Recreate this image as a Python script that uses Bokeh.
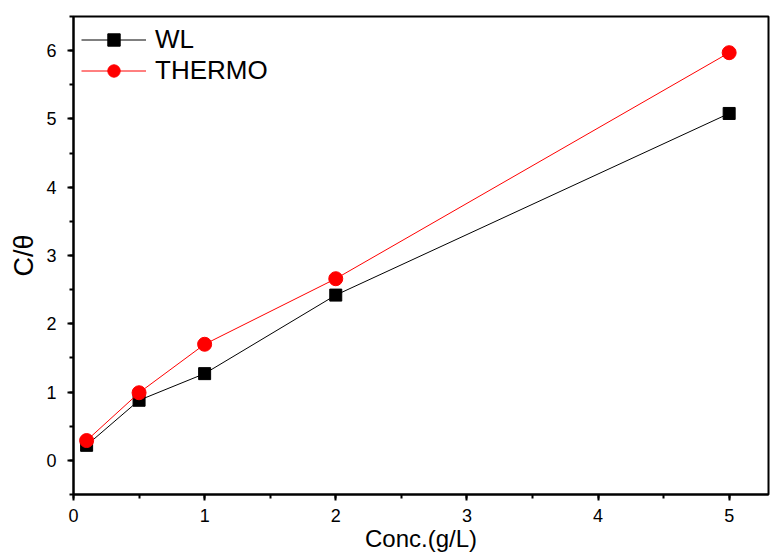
from bokeh.plotting import figure
from bokeh.models import SingleIntervalTicker, Range1d, Legend, LegendItem
from bokeh.embed import file_html
from bokeh.resources import INLINE

conc = [0.1, 0.5, 1, 2, 5]
wl = [0.22, 0.88, 1.27, 2.42, 5.08]
thermo = [0.29, 0.99, 1.70, 2.66, 5.97]

x_title = "Conc.(g/L)"
y_title = "C/θ"

FONT = "Liberation Sans"

p = figure(output_backend="svg", toolbar_location=None,
           frame_width=695, frame_height=478,
           min_border_left=73, min_border_top=16, min_border_right=2, min_border_bottom=60,
           x_range=Range1d(0, 5.3), y_range=Range1d(-0.5, 6.5))
p.xgrid.visible = False
p.ygrid.visible = False
p.outline_line_color = "black"
p.outline_line_width = 2

r1l = p.line(conc, wl, line_color="black", line_width=1)
r1m = p.scatter(conc, wl, marker="square", size=12, color="black")
r2l = p.line(conc, thermo, line_color="red", line_width=1)
r2m = p.scatter(conc, thermo, marker="circle", size=14, color="red")

for ax in (p.xaxis[0], p.yaxis[0]):
    ax.ticker = SingleIntervalTicker(interval=1, num_minor_ticks=2)
    ax.axis_line_width = 2
    ax.major_tick_line_width = 2
    ax.minor_tick_line_width = 2
    ax.major_tick_out = 6
    ax.major_tick_in = 0
    ax.minor_tick_out = 4
    ax.minor_tick_in = 0
    ax.major_label_text_font = FONT
    ax.major_label_text_font_size = "18px"
    ax.major_label_text_color = "black"
    ax.axis_label_text_font = FONT
    ax.axis_label_text_font_style = "normal"
    ax.axis_label_text_color = "black"

p.xaxis.axis_label = x_title
p.yaxis.axis_label = y_title
p.xaxis.axis_label_text_font_size = "24px"
p.yaxis.axis_label_text_font_size = "27px"
p.xaxis.major_label_standoff = 8
p.xaxis.axis_label_standoff = 0
p.yaxis.major_label_standoff = 11
p.yaxis.axis_label_standoff = 4

legend = Legend(items=[LegendItem(label="WL", renderers=[r1l, r1m]),
                       LegendItem(label="THERMO", renderers=[r2l, r2m])],
                location="top_left")
legend.border_line_color = None
legend.background_fill_alpha = 0
legend.label_text_font = FONT
legend.label_text_font_size = "26px"
legend.label_text_color = "black"
legend.glyph_width = 65
legend.glyph_height = 31
legend.spacing = 0
legend.label_standoff = 9
legend.margin = 8
legend.padding = 1
p.add_layout(legend)

open("out.html", "w").write(file_html(p, INLINE))
